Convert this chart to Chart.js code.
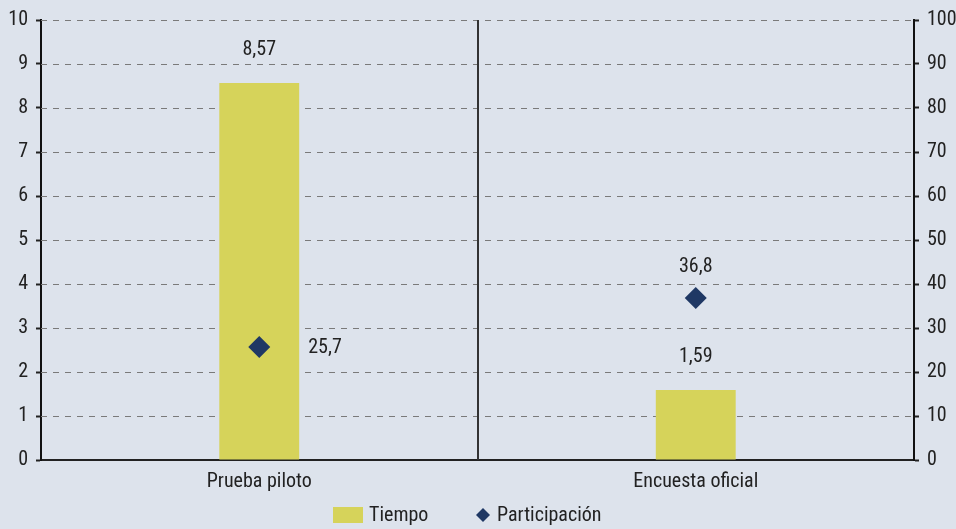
<!DOCTYPE html>
<html><head><meta charset="utf-8">
<script src="https://cdn.jsdelivr.net/npm/chart.js@4.4.1/dist/chart.umd.min.js"></script>
<style>html,body{margin:0;padding:0;background:#dde3ec;}#wrap{width:956px;height:529px;}</style>
</head><body><div id="wrap"><canvas id="c" width="956" height="529"></canvas></div>
<script>
const categories = ["Prueba piloto", "Encuesta oficial"];
const tiempo = [8.57, 1.59];
const participacion = [25.7, 36.8];
const leftTicks = [0,1,2,3,4,5,6,7,8,9,10];
const rightTicks = [0,10,20,30,40,50,60,70,80,90,100];
const seriesNames = ["Tiempo", "Participación"];

const FONT = "'Liberation Sans Narrow','Roboto Condensed','Arial Narrow',sans-serif";
const FS = 20;
const BG = '#dde3ec', BAR = '#d6d35a', NAVY = '#1f3864', TXT = '#222222';
const fmt = v => String(v).replace('.', ',');

const plugin = {
  id: 'custom',
  beforeDraw(chart) {
    const {ctx, width, height} = chart;
    ctx.save(); ctx.fillStyle = BG; ctx.fillRect(0,0,width,height); ctx.restore();
  },
  beforeDatasetsDraw(chart) {
    const {ctx, chartArea: a, scales} = chart;
    ctx.save();
    ctx.strokeStyle = '#7a7a7a'; ctx.lineWidth = 1; ctx.setLineDash([6,6]);
    leftTicks.forEach(v => {
      if (v === 0) return;
      const y = Math.round(scales.y.getPixelForValue(v)) + 0.5;
      ctx.beginPath(); ctx.moveTo(a.left, y); ctx.lineTo(a.right, y); ctx.stroke();
    });
    ctx.setLineDash([]);
    const x0 = scales.x.getPixelForValue(0), x1 = scales.x.getPixelForValue(1);
    const xm = Math.round((x0 + x1) / 2);
    ctx.strokeStyle = '#333'; ctx.lineWidth = 2;
    ctx.beginPath(); ctx.moveTo(xm, a.top); ctx.lineTo(xm, a.bottom); ctx.stroke();
    ctx.restore();
  },
  afterDraw(chart) {
    const {ctx} = chart;
    ctx.save();
    ctx.font = FS + 'px ' + FONT; ctx.fillStyle = TXT; ctx.textBaseline = 'middle';
    const barMeta = chart.getDatasetMeta(0), ptMeta = chart.getDatasetMeta(1);
    barMeta.data.forEach((el, i) => {
      ctx.textAlign = 'center';
      ctx.fillText(fmt(tiempo[i]), el.x, el.y - 33);
    });
    ptMeta.data.forEach((el, i) => {
      const barTop = barMeta.data[i].y;
      if (el.y > barTop) { ctx.textAlign = 'left'; ctx.fillText(fmt(participacion[i]), el.x + 49, el.y + 1); }
      else { ctx.textAlign = 'center'; ctx.fillText(fmt(participacion[i]), el.x, el.y - 31); }
    });
    const ly = 515;
    ctx.fillStyle = BAR; ctx.fillRect(333, ly - 8, 30, 16);
    ctx.fillStyle = TXT; ctx.textAlign = 'left';
    ctx.fillText(seriesNames[0], 369, ly + 1);
    ctx.fillStyle = NAVY;
    ctx.beginPath(); ctx.moveTo(483, ly - 7); ctx.lineTo(490, ly); ctx.lineTo(483, ly + 7); ctx.lineTo(476, ly); ctx.closePath(); ctx.fill();
    ctx.fillStyle = TXT;
    ctx.fillText(seriesNames[1], 497, ly + 1);
    ctx.restore();
  }
};

new Chart(document.getElementById('c'), {
  data: {
    labels: categories,
    datasets: [
      { type: 'bar', label: seriesNames[0], data: tiempo, backgroundColor: BAR, yAxisID: 'y', barPercentage: 0.183, categoryPercentage: 1, order: 2 },
      { type: 'line', label: seriesNames[1], data: participacion, yAxisID: 'y1', showLine: false, pointStyle: 'rectRot', pointRadius: 11, pointHoverRadius: 11, pointBackgroundColor: NAVY, pointBorderColor: NAVY, borderWidth: 0, order: 1 }
    ]
  },
  options: {
    responsive: false, animation: false, devicePixelRatio: 1,
    layout: { padding: { top: 20, bottom: 29, left: 0, right: 0 } },
    plugins: { legend: { display: false }, tooltip: { enabled: false } },
    scales: {
      x: {
        grid: { display: false, drawTicks: false },
        border: { display: true, color: '#222', width: 2 },
        ticks: { font: { family: FONT, size: FS }, color: TXT, padding: 10 },
        afterFit(s) { s.height = 40; }
      },
      y: {
        position: 'left', min: 0, max: 10,
        afterBuildTicks(s) { s.ticks = leftTicks.map(v => ({value: v})); },
        grid: { drawOnChartArea: false, drawTicks: true, tickLength: 5, tickColor: '#222', tickWidth: 2 },
        border: { display: true, color: '#111', width: 2 },
        ticks: { font: { family: FONT, size: FS }, color: TXT, padding: 8 },
        afterFit(s) { s.width = 41; }
      },
      y1: {
        position: 'right', min: 0, max: 100,
        afterBuildTicks(s) { s.ticks = rightTicks.map(v => ({value: v})); },
        grid: { drawOnChartArea: false, drawTicks: true, tickLength: 5, tickColor: '#222', tickWidth: 2 },
        border: { display: true, color: '#111', width: 2 },
        ticks: { font: { family: FONT, size: FS }, color: TXT, padding: 8 },
        afterFit(s) { s.width = 42; }
      }
    }
  },
  plugins: [plugin]
});
</script></body></html>
